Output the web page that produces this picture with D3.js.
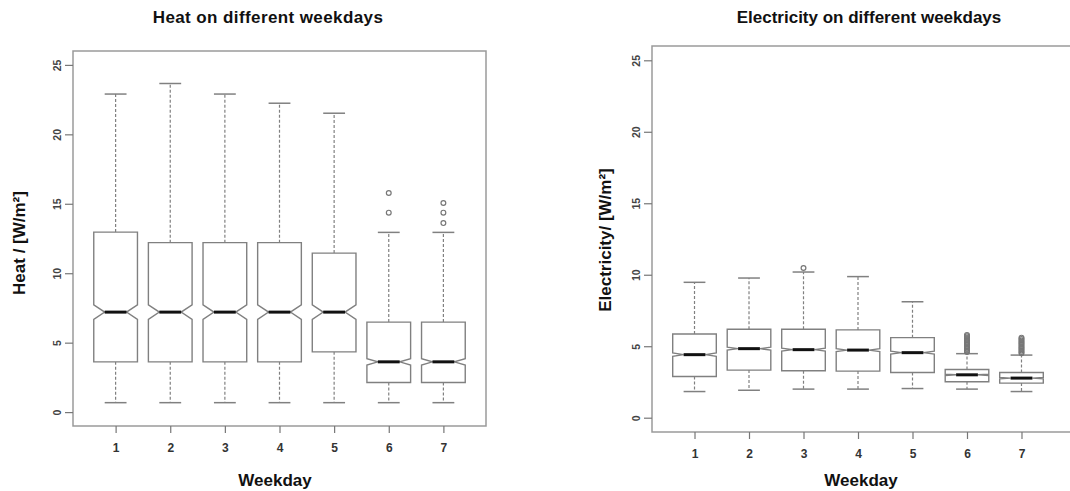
<!DOCTYPE html>
<html>
<head>
<meta charset="utf-8">
<script src="https://cdn.jsdelivr.net/npm/d3@7"></script>
<style>
  body { margin: 0; background: #fff; }
  text { font-family: "Liberation Sans", Arial, sans-serif; }
</style>
</head>
<body>
<div id="chart"></div>
<script>
var weekdays = [1, 2, 3, 4, 5, 6, 7];
var yTicks = [0, 5, 10, 15, 20, 25];

// heat boxplot stats
var heatLow   = [0.68, 0.68, 0.68, 0.68, 0.68, 0.68, 0.68];
var heatQ1    = [3.62, 3.62, 3.62, 3.62, 4.34, 2.13, 2.13];
var heatMed   = [7.2, 7.2, 7.2, 7.2, 7.2, 3.62, 3.62];
var heatQ3    = [12.96, 12.2, 12.2, 12.2, 11.45, 6.48, 6.48];
var heatHigh  = [22.9, 23.66, 22.9, 22.24, 21.52, 12.94, 12.94];
var heatNotch = [0.52, 0.52, 0.52, 0.52, 0.52, 0.23, 0.23];
var heatOut   = [[], [], [], [], [], [15.78, 14.36], [15.06, 14.36, 13.61]];

// electricity boxplot stats
var elecLow   = [1.83, 1.92, 2.0, 2.0, 2.04, 2.0, 1.83];
var elecQ1    = [2.88, 3.33, 3.28, 3.26, 3.16, 2.51, 2.42];
var elecMed   = [4.41, 4.83, 4.76, 4.73, 4.55, 3.0, 2.77];
var elecQ3    = [5.86, 6.19, 6.19, 6.14, 5.6, 3.37, 3.16];
var elecHigh  = [9.47, 9.77, 10.19, 9.87, 8.11, 4.48, 4.38];
var elecNotch = [0.12, 0.1, 0.1, 0.1, 0.1, 0.05, 0.05];
var elecOut   = [[], [], [10.47], [], [],
  [4.6, 4.7, 4.8, 4.9, 5.0, 5.1, 5.2, 5.3, 5.4, 5.5, 5.6, 5.7, 5.78],
  [4.5, 4.6, 4.7, 4.8, 4.9, 5.0, 5.1, 5.2, 5.3, 5.4, 5.5, 5.6]];

var W = 1070, H = 491;
var boxCol = "#808080";

var svg = d3.select("#chart").append("svg")
    .attr("width", W)
    .attr("height", H);

function panel(cfg) {
    var x = d3.scaleLinear().domain([0.22, 7.78]).range([cfg.left, cfg.right]);
    var y = d3.scaleLinear().domain([-1, 26]).range([cfg.bottom, cfg.top]);
    var g = svg.append("g");
    var hw = 0.4;

    var boxes = weekdays.map(function(d, i) {
        return {day: d, low: cfg.low[i], q1: cfg.q1[i], med: cfg.med[i], q3: cfg.q3[i],
                high: cfg.high[i], n: cfg.notch[i], out: cfg.out[i]};
    });

    // frame
    var fr = cfg.open ? W + 5 : cfg.right;
    g.append("path")
        .attr("d", "M" + fr + "," + cfg.top + "H" + cfg.left + "V" + cfg.bottom + "H" + fr + (cfg.open ? "" : "Z"))
        .attr("fill", "none")
        .attr("stroke", "#9a9a9a")
        .attr("stroke-width", 1.5);

    // y axis
    var ya = g.append("g").attr("transform", "translate(" + cfg.left + ",0)")
        .call(d3.axisLeft(y).tickValues(yTicks).tickSize(8).tickPadding(4));
    ya.select(".domain").remove();
    ya.selectAll("line").attr("stroke", "#777").attr("stroke-width", 1.2);
    ya.selectAll("text")
        .attr("transform", "rotate(-90)")
        .attr("x", 0).attr("dy", 0)
        .attr("y", -12)
        .attr("text-anchor", "middle")
        .attr("fill", "#444")
        .style("font-size", "10.5px")
        .style("font-weight", "bold");

    // x axis
    var xa = g.append("g").attr("transform", "translate(0," + cfg.bottom + ")")
        .call(d3.axisBottom(x).tickValues(weekdays).tickSize(7).tickPadding(10).tickFormat(d3.format("d")));
    xa.select(".domain").remove();
    xa.selectAll("line").attr("stroke", "#777").attr("stroke-width", 1.2);
    xa.selectAll("text")
        .attr("fill", "#333")
        .style("font-size", "12px")
        .style("font-weight", "bold");

    var b = g.selectAll(".box").data(boxes).enter().append("g").attr("class", "box");

    // whiskers
    b.append("line")
        .attr("x1", function(d) { return x(d.day); }).attr("x2", function(d) { return x(d.day); })
        .attr("y1", function(d) { return y(d.q3); }).attr("y2", function(d) { return y(d.high); })
        .attr("stroke", boxCol).attr("stroke-width", 1.2).attr("stroke-dasharray", "3,2");
    b.append("line")
        .attr("x1", function(d) { return x(d.day); }).attr("x2", function(d) { return x(d.day); })
        .attr("y1", function(d) { return y(d.q1); }).attr("y2", function(d) { return y(d.low); })
        .attr("stroke", boxCol).attr("stroke-width", 1.2).attr("stroke-dasharray", "3,2");
    ["high", "low"].forEach(function(k) {
        b.append("line")
            .attr("x1", function(d) { return x(d.day - hw / 2); })
            .attr("x2", function(d) { return x(d.day + hw / 2); })
            .attr("y1", function(d) { return y(d[k]); }).attr("y2", function(d) { return y(d[k]); })
            .attr("stroke", boxCol).attr("stroke-width", 1.5);
    });

    // notched box
    b.append("path")
        .attr("d", function(d) {
            var c = d.day;
            var pts = [
                [c - hw, d.q1], [c - hw, d.med - d.n], [c - hw / 2, d.med], [c - hw, d.med + d.n],
                [c - hw, d.q3], [c + hw, d.q3], [c + hw, d.med + d.n], [c + hw / 2, d.med],
                [c + hw, d.med - d.n], [c + hw, d.q1]
            ];
            return "M" + pts.map(function(p) { return x(p[0]) + "," + y(p[1]); }).join("L") + "Z";
        })
        .attr("fill", "#fff")
        .attr("stroke", boxCol)
        .attr("stroke-width", 1.4);

    // median
    b.append("line")
        .attr("x1", function(d) { return x(d.day - hw / 2); })
        .attr("x2", function(d) { return x(d.day + hw / 2); })
        .attr("y1", function(d) { return y(d.med); }).attr("y2", function(d) { return y(d.med); })
        .attr("stroke", "#111").attr("stroke-width", 3);

    // outliers
    b.selectAll("circle").data(function(d) { return d.out.map(function(v) { return {day: d.day, v: v}; }); })
        .enter().append("circle")
        .attr("cx", function(d) { return x(d.day); })
        .attr("cy", function(d) { return y(d.v); })
        .attr("r", 2.4)
        .attr("fill", "none")
        .attr("stroke", "#777")
        .attr("stroke-width", 1.2);

    // labels
    g.append("text")
        .attr("x", cfg.titleX).attr("y", 23)
        .attr("text-anchor", "middle")
        .style("font-size", "17px").style("font-weight", "bold")
        .style("letter-spacing", cfg.titleSpacing)
        .attr("fill", "#111")
        .text(cfg.title);
    g.append("text")
        .attr("transform", "translate(" + cfg.ylabX + "," + cfg.ylabY + ") rotate(-90)")
        .attr("text-anchor", "middle")
        .style("font-size", "17px").style("font-weight", "bold")
        .attr("fill", "#111")
        .text(cfg.ylab);
    g.append("text")
        .attr("x", cfg.xlabX).attr("y", 486)
        .attr("text-anchor", "middle")
        .style("font-size", "17px").style("font-weight", "bold")
        .attr("fill", "#111")
        .text("Weekday");
}

panel({
    left: 73, right: 486, top: 51, bottom: 426,
    low: heatLow, q1: heatQ1, med: heatMed, q3: heatQ3, high: heatHigh, notch: heatNotch, out: heatOut,
    title: "Heat on different weekdays", titleX: 268, titleSpacing: "0.4px",
    ylab: "Heat / [W/m\u00b2]", ylabX: 25, ylabY: 243,
    xlabX: 275, open: false
});

panel({
    left: 652, right: 1064, top: 46, bottom: 432,
    low: elecLow, q1: elecQ1, med: elecMed, q3: elecQ3, high: elecHigh, notch: elecNotch, out: elecOut,
    title: "Electricity on different weekdays", titleX: 869, titleSpacing: "0px",
    ylab: "Electricity/ [W/m\u00b2]", ylabX: 611, ylabY: 240,
    xlabX: 861, open: true
});
</script>
</body>
</html>
